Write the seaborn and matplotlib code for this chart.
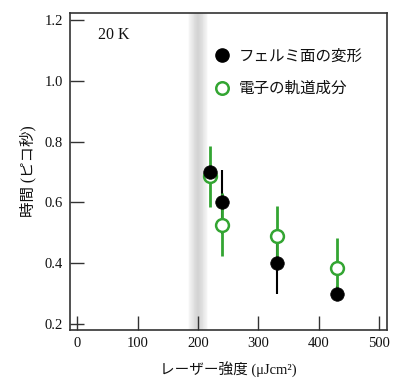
import numpy as np
import pandas as pd
import matplotlib
matplotlib.use("Agg")
import matplotlib.pyplot as plt
import seaborn as sns
from matplotlib.lines import Line2D

# Data
fluence_black = [220, 240, 330, 430]
time_black = [0.70, 0.60, 0.40, 0.30]
err_black = [0.02, 0.105, 0.10, 0.025]

fluence_green = [220, 240, 330, 430]
time_green = [0.685, 0.527, 0.489, 0.384]
err_green = [0.10, 0.105, 0.10, 0.097]

label_black = "フェルミ面の変形"
label_green = "電子の軌道成分"
xticks = [0, 100, 200, 300, 400, 500]
yticks = [0.2, 0.4, 0.6, 0.8, 1.0, 1.2]
threshold = 200

sns.set_theme(style="white")
plt.rcParams['font.family'] = ['Liberation Serif', 'Noto Sans CJK JP']

df_b = pd.DataFrame({"x": fluence_black, "y": time_black, "s": label_black})
df_g = pd.DataFrame({"x": fluence_green, "y": time_green, "s": label_green})

fig = plt.figure(figsize=(4.0, 3.89), dpi=100)
ax = fig.add_axes([0.175, 0.1517, 0.7925, 0.815])

# gray gradient band
for w in np.linspace(17, 2, 12):
    ax.axvspan(threshold - w, threshold + w, color='#999999', alpha=0.04, lw=0, zorder=0)

green = '#33a532'
ax.errorbar(fluence_black, time_black, yerr=err_black, fmt='none', ecolor='black', elinewidth=1.5, capsize=0, zorder=2)
ax.errorbar(fluence_green, time_green, yerr=err_green, fmt='none', ecolor=green, elinewidth=2.0, capsize=0, zorder=3)
sns.scatterplot(data=df_g, x="x", y="y", ax=ax, marker='o', s=85, facecolor='white',
                edgecolor=green, linewidth=1.8, zorder=4, legend=False)
sns.scatterplot(data=df_b, x="x", y="y", ax=ax, marker='o', s=95, color='black',
                edgecolor='black', linewidth=0.5, zorder=5, legend=False)

ax.set_xlim(-12, 513)
ax.set_ylim(0.18, 1.223)
ax.set_xticks(xticks)
ax.set_yticks(yticks)
ax.set_xticklabels([str(t) for t in xticks])
ax.set_yticklabels([f"{t:.1f}" for t in yticks])
ax.tick_params(direction='in', length=10, width=1.0, color='#333333', labelsize=10.5,
               labelcolor='#111111', bottom=True, left=True, pad=5)
for side in ['left', 'right', 'top', 'bottom']:
    ax.spines[side].set_visible(True)
    ax.spines[side].set_color('#333333')
    ax.spines[side].set_linewidth(1.2)

ax.set_xlabel("レーザー強度 (μJcm²)", fontsize=10.5, color='#111111', labelpad=8)
ax.set_ylabel("時間 (ピコ秒)", fontsize=11.2, color='#111111', labelpad=6)
ax.text(0.088, 0.93, "20 K", transform=ax.transAxes, fontsize=11.5,
        family='Liberation Serif', color='#111111', va='center')

handles = [
    Line2D([], [], marker='o', linestyle='none', markersize=9.5, color='black'),
    Line2D([], [], marker='o', linestyle='none', markersize=9, markerfacecolor='white',
           markeredgecolor=green, markeredgewidth=1.8),
]
leg = ax.legend(handles, [label_black, label_green], loc='upper left',
                bbox_to_anchor=(0.415, 0.935), frameon=False,
                handlelength=0.8, handletextpad=0.7, labelspacing=1.0,
                prop={'family': ['Noto Sans CJK JP'], 'size': 11.2})
for t in leg.get_texts():
    t.set_color('#111111')

fig.savefig("out.png", dpi=100)
